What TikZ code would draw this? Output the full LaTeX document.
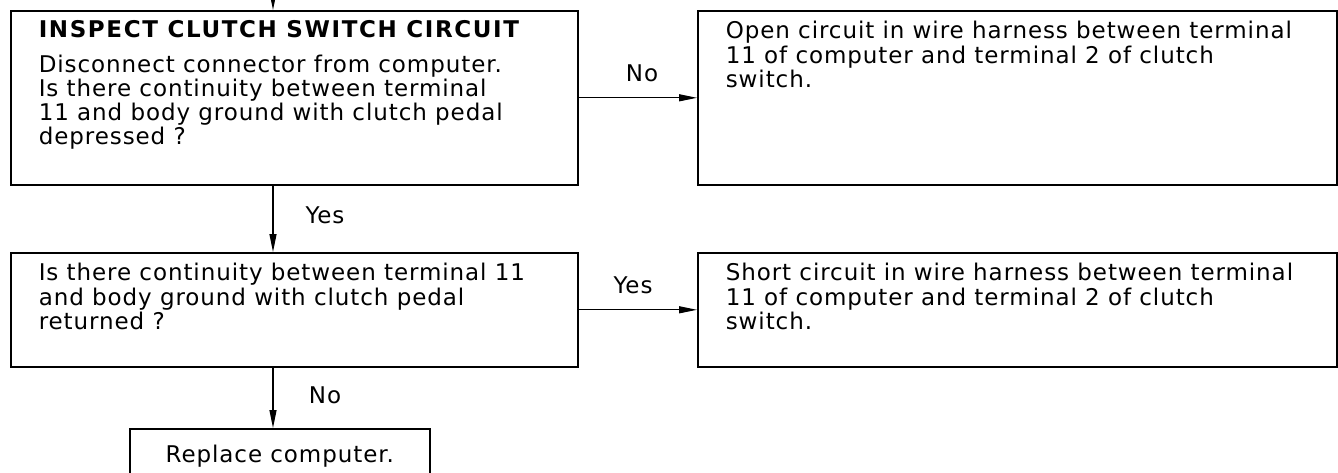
\documentclass[tikz,border=0pt]{standalone}
\usepackage{fontspec}
\newfontfamily\chartfont{DejaVu Sans}[LetterSpace=4]
\usetikzlibrary{arrows.meta,positioning,calc}

\begin{document}
\begin{tikzpicture}[x=1pt,y=-1pt,
    font=\chartfont\fontsize{23}{24}\selectfont,
    box/.style={draw,line width=1.6pt,anchor=north west,inner xsep=28pt,inner ysep=10pt},
    flow/.style={-{Triangle[length=18pt,width=7pt]},line width=1.2pt},
    answer/.style={inner sep=0pt}]
    \clip (0,0) rectangle (1338,472);

    % boxes
    \node[box] (inspect) at (10,10) {\parbox[c][154pt][t]{511pt}{\raggedright\strut{\addfontfeature{LetterSpace=7}\bfseries INSPECT CLUTCH SWITCH CIRCUIT}\\[9pt]
        Disconnect connector from computer.\\
        Is there continuity between terminal\\
        11 and body ground with clutch pedal\\
        depressed ?}};
    \node[box] (open) at (697,10) {\parbox[c][154pt][t]{583pt}{\raggedright\strut Open circuit in wire harness between terminal\\
        11 of computer and terminal 2 of clutch\\
        switch.}};
    \node[box] (returned) at (10,252) {\parbox[c][94pt][t]{511pt}{\raggedright\strut Is there continuity between terminal 11\\
        and body ground with clutch pedal\\
        returned ?}};
    \node[box] (short) at (697,252) {\parbox[c][94pt][t]{583pt}{\raggedright\strut Short circuit in wire harness between terminal\\
        11 of computer and terminal 2 of clutch\\
        switch.}};
    \node[box,inner xsep=0pt,inner ysep=16pt] (replace) at (129,428) {\parbox[c][50pt][t]{300pt}{\centering\strut Replace computer.}};

    % answers
    \node[answer] (no1) at (642,73) {No};
    \node[answer] (yes1) at (325,215) {Yes};
    \node[answer] (yes2) at (633,285) {Yes};
    \node[answer] (no2) at (325,395) {No};

    % connectors
    \coordinate (entry) at (273,0);
    \draw[flow] (entry) -- (entry |- inspect.north);
    \draw[flow] (inspect.south -| entry) -- (returned.north -| entry);
    \draw[flow] (returned.south -| entry) -- (replace.north -| entry);
    \draw[flow] (inspect.east) -- (open.west);
    \draw[flow] (returned.east) -- (short.west);
\end{tikzpicture}
\end{document}
